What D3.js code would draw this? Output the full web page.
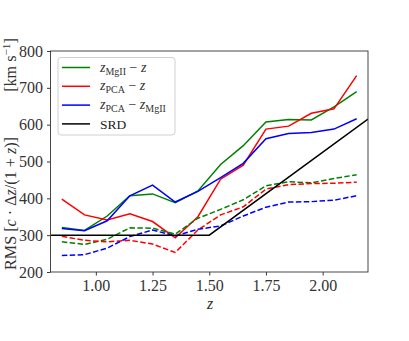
<!DOCTYPE html>
<html><head><meta charset="utf-8">
<script src="https://cdn.jsdelivr.net/npm/d3@7"></script>
<style>
html,body{margin:0;padding:0;background:#fff;}
svg{display:block;}
text{font-family:"Liberation Serif","DejaVu Serif",serif;}
</style></head>
<body><svg id="c" width="409" height="341"></svg>
<script>
const zBins = [0.85,0.95,1.05,1.15,1.25,1.35,1.45,1.55,1.65,1.75,1.85,1.95,2.05,2.15];
const greenSolid = [321,313,352,407,412,388,420,492,543,607,614,613,648,690];
const redSolid   = [398,355,341,358,337,293,350,452,490,588,596,631,643,733];
const blueSolid  = [318,312,339,407,436,390,419,456,495,562,576,579,588,616];
const greenDashed= [282,275,289,320,319,303,346,370,396,434,445,442,454,464];
const redDashed  = [297,286,282,286,276,253,314,355,377,425,437,440,441,444];
const blueDashed = [245,247,265,296,314,298,316,325,352,376,390,391,395,407];
const srdZ = [0.8,1.5,2.2];
const srdV = [300,300,615];
const xTicks = [1.00,1.25,1.50,1.75,2.00];
const yTicks = [200,300,400,500,600,700,800];

const svg = d3.select("#c");
const L=50.5, R=368, T=51, B=272;
const x = d3.scaleLinear().domain([0.8,2.2]).range([L,R]);
const y = d3.scaleLinear().domain([200,800]).range([B,T]);
const line = d3.line().x(d=>x(d[0])).y(d=>y(d[1]));

const plot = svg.append("g");
plot.append("clipPath").attr("id","clip").append("rect").attr("x",L).attr("y",T).attr("width",R-L).attr("height",B-T);
const g = plot.append("g").attr("clip-path","url(#clip)");

const series = [
  {v:greenSolid,c:"#008000",dash:null},
  {v:redSolid,c:"#ff0000",dash:null},
  {v:blueSolid,c:"#0000ff",dash:null},
  {v:greenDashed,c:"#008000",dash:"5.5,2.4"},
  {v:redDashed,c:"#ff0000",dash:"5.5,2.4"},
  {v:blueDashed,c:"#0000ff",dash:"5.5,2.4"}
];
series.forEach(s=>{
  g.append("path").attr("d",line(zBins.map((z,i)=>[z,s.v[i]])))
   .attr("fill","none").attr("stroke",s.c).attr("stroke-width",1.5)
   .attr("stroke-dasharray",s.dash);
});
g.append("path").attr("d",line(srdZ.map((z,i)=>[z,srdV[i]])))
 .attr("fill","none").attr("stroke","#000").attr("stroke-width",1.5);

// axes
const xa = svg.append("g").attr("transform",`translate(0,${B})`)
  .call(d3.axisBottom(x).tickValues(xTicks).tickFormat(d3.format(".2f")).tickSizeOuter(0).tickSize(3.5).tickPadding(4));
const ya = svg.append("g").attr("transform",`translate(${L},0)`)
  .call(d3.axisLeft(y).tickValues(yTicks).tickFormat(d3.format("d")).tickSizeOuter(0).tickSize(3.5).tickPadding(4));
[xa,ya].forEach(a=>{
  a.select(".domain").remove();
  a.selectAll("line").attr("stroke","#222").attr("stroke-width",0.9);
  a.selectAll("text").attr("font-family","Liberation Serif, serif").attr("font-size",16).attr("fill","#333");
});
svg.append("rect").attr("x",L).attr("y",T).attr("width",R-L).attr("height",B-T)
  .attr("fill","none").attr("stroke","#333").attr("stroke-width",0.9);

// x label
svg.append("text").attr("x",210).attr("y",309).attr("text-anchor","middle")
  .attr("font-size",16).attr("font-style","italic").attr("fill","#333").text("z");

// y label: two parts
function rich(sel, parts, fs){
  parts.forEach(p=>{
    const t = sel.append("tspan").text(p[0]);
    if(p[1]==="i") t.attr("font-style","italic");
    if(p[1]==="sup") t.attr("font-size",fs*0.7).attr("baseline-shift","6");
  });
}
const yl1 = svg.append("text").attr("transform","translate(16,203.5) rotate(-90)")
  .attr("text-anchor","middle").attr("font-size",15).attr("fill","#333");
rich(yl1, [["RMS [",""],["c","i"],[" · Δ",""],["z","i"],["/(1 + ",""],["z","i"],[")]",""]], 15);
const len1 = yl1.node().getComputedTextLength();
let f = 15;
if(len1>0){ f = 15*133/len1; yl1.attr("font-size",f); }
const yl2 = svg.append("text").attr("transform","translate(16,65) rotate(-90)")
  .attr("text-anchor","middle").attr("font-size",f).attr("fill","#333");
rich(yl2, [["[km s",""],["−1","sup"],["]",""]], f);

// legend
const lg = svg.append("g");
lg.append("rect").attr("x",58).attr("y",57.5).attr("width",117).attr("height",77.5).attr("rx",3)
  .attr("fill","#fff").attr("fill-opacity",0.8).attr("stroke","#d0d0d0").attr("stroke-width",1);
const entries = [
  {c:"#008000",lab:[["z","i"],["MgII","sub"],[" − ",""],["z","i"]]},
  {c:"#ff0000",lab:[["z","i"],["PCA","sub"],[" − ",""],["z","i"]]},
  {c:"#0000ff",lab:[["z","i"],["PCA","sub"],[" − ",""],["z","i"],["MgII","sub"]]},
  {c:"#000",lab:null}
];
entries.forEach((e,i)=>{
  const cy = 67.5 + i*18.8;
  lg.append("line").attr("x1",62).attr("x2",90).attr("y1",cy).attr("y2",cy)
    .attr("stroke",e.c).attr("stroke-width",1.5);
  if(e.lab){
    const t = lg.append("text").attr("x",100).attr("y",cy+4).attr("font-size",14).attr("fill","#333");
    e.lab.forEach(p=>{
      const s = t.append("tspan").text(p[0]);
      if(p[1]==="i") s.attr("font-style","italic").attr("baseline-shift","0");
      if(p[1]==="sub") s.attr("font-size",10).attr("baseline-shift","-3");
    });
  } else {
    lg.append("text").attr("x",100).attr("y",cy+5).attr("font-family","Liberation Sans, Arial, sans-serif")
      .attr("font-size",13.5).attr("fill","#222").text("SRD");
  }
});
</script></body></html>
